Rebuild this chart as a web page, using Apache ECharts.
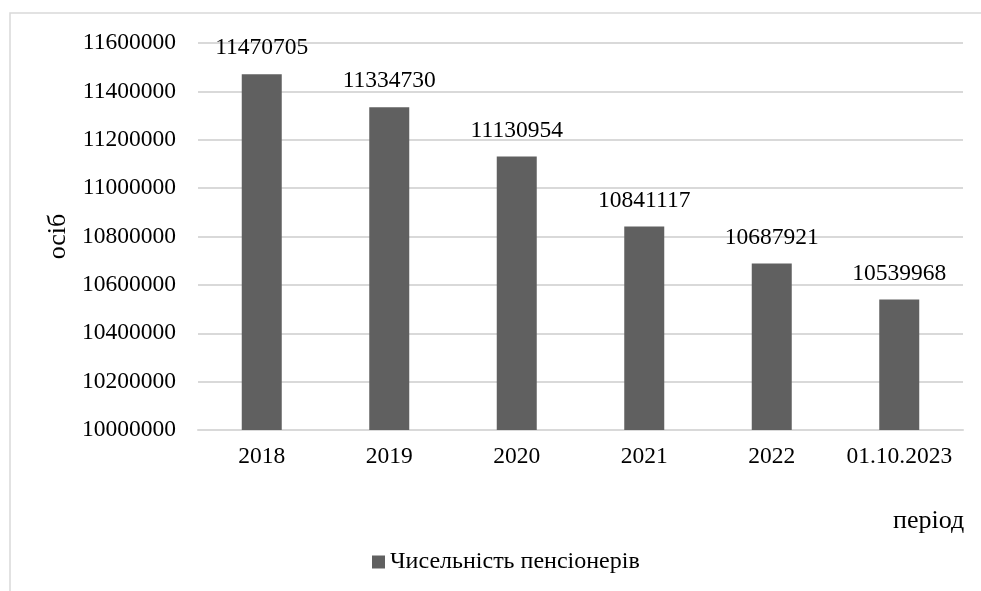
<!DOCTYPE html>
<html>
<head>
<meta charset="utf-8">
<script src="https://cdn.jsdelivr.net/npm/echarts@6/dist/echarts.min.js"></script>
<style>
html,body{margin:0;padding:0;background:#fff;}
#chart{width:981px;height:591px;}
</style>
</head>
<body>
<div id="chart"></div>
<script>
const categories = ['2018', '2019', '2020', '2021', '2022', '01.10.2023'];
const pensioners = [11470705, 11334730, 11130954, 10841117, 10687921, 10539968];
const seriesName = 'Чисельність пенсіонерів';
const yAxisName = 'осіб';
const xAxisName = 'період';

const FONT = '"Liberation Serif", "Times New Roman", serif';
const chart = echarts.init(document.getElementById('chart'));
chart.setOption({
  backgroundColor: '#fff',
  animation: false,
  graphic: [{
    type: 'rect',
    shape: { x: 10, y: 13, width: 1000, height: 700 },
    style: { fill: 'none', stroke: '#d9d9d9', lineWidth: 1.5 },
    silent: true
  }, {
    type: 'text',
    left: 893, top: 508,
    style: { text: xAxisName, font: '26px ' + FONT, fill: '#000' }
  }],
  grid: { left: 198, right: 18, top: 43, bottom: 161 },
  legend: {
    data: [seriesName],
    left: 372,
    top: 550,
    itemWidth: 13,
    itemHeight: 13,
    itemGap: 5,
    icon: 'rect',
    textStyle: { fontFamily: FONT, fontSize: 24, color: '#000' },
    padding: 0
  },
  xAxis: {
    type: 'category',
    data: categories,
    axisLine: { show: true, lineStyle: { color: '#d9d9d9', width: 2 } },
    axisTick: { show: false },
    axisLabel: { fontFamily: FONT, fontSize: 23.5, color: '#000', margin: 15, interval: 0 }
  },
  yAxis: {
    type: 'value',
    min: 10000000,
    max: 11600000,
    interval: 200000,
    name: yAxisName,
    nameLocation: 'middle',
    nameRotate: 90,
    nameGap: 109,
    nameTextStyle: { fontFamily: FONT, fontSize: 26, color: '#000' },
    axisLine: { show: false },
    axisTick: { show: false },
    splitLine: { lineStyle: { color: '#d9d9d9', width: 2 } },
    axisLabel: {
      fontFamily: FONT, fontSize: 23.5, color: '#000', margin: 22,
      formatter: function (v) { return String(v); }
    }
  },
  series: [{
    name: seriesName,
    type: 'bar',
    data: pensioners,
    barWidth: 40,
    itemStyle: { color: '#606060' },
    label: {
      show: true,
      position: 'top',
      distance: 14,
      fontFamily: FONT,
      fontSize: 23.5,
      color: '#000'
    }
  }]
});
</script>
</body>
</html>
